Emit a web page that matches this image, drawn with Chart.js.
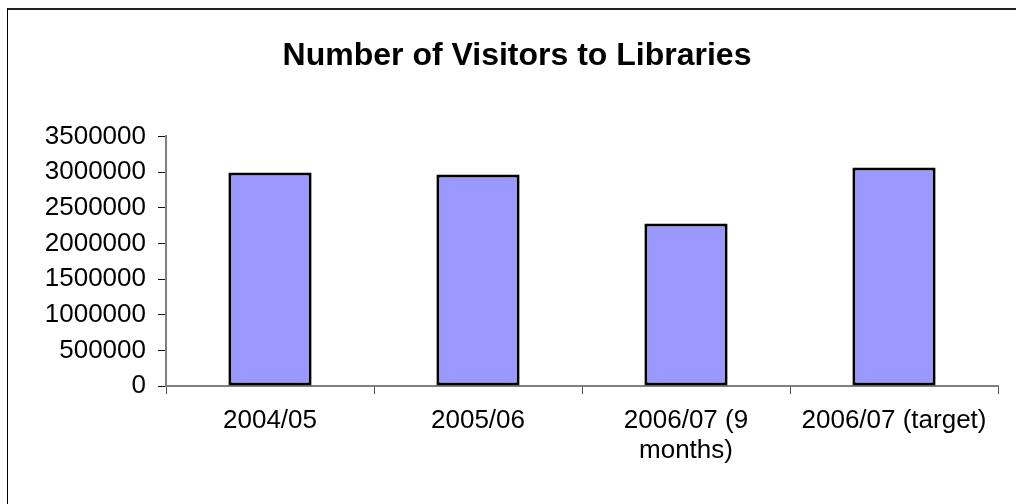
<!DOCTYPE html>
<html>
<head>
<meta charset="utf-8">
<script src="https://cdn.jsdelivr.net/npm/chart.js@4/dist/chart.umd.min.js"></script>
<style>
  body { margin: 0; background: #fff; }
  #wrap { position: relative; width: 1016px; height: 504px; overflow: hidden; }
  #frame { position: absolute; left: 7px; top: 8px; width: 1100px; height: 600px;
           border-left: 1px solid #000; border-top: 2px solid #222; pointer-events: none; }
  canvas { position: absolute; left: 0; top: 0; }
</style>
</head>
<body>
<div id="wrap">
  <canvas id="visitors" width="1016" height="504"></canvas>
  <div id="frame"></div>
</div>
<script>
// data
var years = ["2004/05", "2005/06", ["2006/07 (9", "months)"], "2006/07 (target)"];
var visitorCounts = [2995000, 2965000, 2280000, 3065000];
var yMax = 3500000;
var yStep = 500000;

var fontName = "'Liberation Sans', Arial, sans-serif";

const ctx = document.getElementById("visitors").getContext("2d");
const myChart = new Chart(ctx, {
  type: "bar",
  data: {
    labels: years,
    datasets: [
      {
        label: "Visitors",
        data: visitorCounts,
        backgroundColor: "#9999FF",
        borderColor: "#000000",
        borderWidth: 3,
        borderSkipped: false,
        barPercentage: 0.4,
        categoryPercentage: 1.0,
      },
    ],
  },
  options: {
    responsive: false,
    animation: false,
    layout: { padding: { left: 36, right: 18, top: 0, bottom: 0 } },
    plugins: {
      legend: { display: false },
      tooltip: { enabled: false },
      title: {
        display: true,
        text: "Number of Visitors to Libraries",
        color: "#000",
        font: { family: fontName, size: 32, weight: "bold", lineHeight: 1.2 },
        padding: { top: 37, bottom: 61 },
      },
    },
    scales: {
      x: {
        offset: true,
        grid: {
          offset: true,
          drawOnChartArea: false,
          drawTicks: true,
          tickLength: 8,
          color: "#555",
        },
        border: { color: "#808080", width: 2 },
        ticks: {
          color: "#000",
          padding: 12,
          maxRotation: 0,
          autoSkip: false,
          font: { family: fontName, size: 26, lineHeight: 1.15 },
        },
        afterFit: function (scale) { scale.height = 118; },
      },
      y: {
        min: 0,
        max: yMax,
        beginAtZero: true,
        grid: {
          drawOnChartArea: false,
          drawTicks: true,
          tickLength: 8,
          color: "#111",
        },
        border: { color: "#808080", width: 2 },
        ticks: {
          stepSize: yStep,
          color: "#000",
          padding: 12,
          font: { family: fontName, size: 26 },
          callback: function (v) { return String(v); },
        },
        afterFit: function (scale) { scale.width = 130; },
      },
    },
  },
});
</script>
</body>
</html>
